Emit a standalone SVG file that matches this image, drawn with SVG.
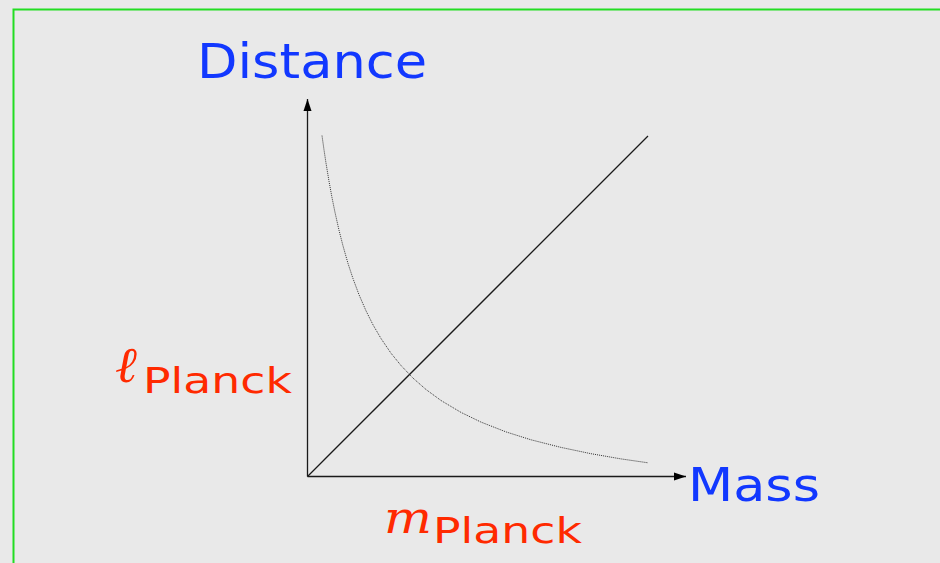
<svg xmlns="http://www.w3.org/2000/svg" width="940" height="563" viewBox="0 0 940 563">
<style>
.axis{stroke:#1a1a1a;stroke-width:1.3;fill:none}
.lbl{font-family:"DejaVu Sans",sans-serif}
.blue{fill:#1238ff}
.red{fill:#ff2a00}
.math{font-family:"DejaVu Serif","Liberation Serif",serif;font-style:italic}
</style>
<defs>
<marker id="arr" markerUnits="userSpaceOnUse" markerWidth="14" markerHeight="10" refX="12" refY="5" orient="auto">
<path d="M0,1 L12,5 L0,9 Z" fill="#000"/>
</marker>
</defs>
<rect x="0" y="0" width="940" height="563" fill="#e9e9e9"/>
<rect x="13.5" y="9.5" width="940" height="600" fill="none" stroke="#22dd22" stroke-width="2"/>
<g id="connectors">
<line class="axis" x1="307.5" y1="476.5" x2="307.5" y2="99" marker-end="url(#arr)"/>
<line class="axis" x1="307.5" y1="476.5" x2="686" y2="476.5" marker-end="url(#arr)"/>
<line class="axis" x1="307.5" y1="476.5" x2="648" y2="136"/>
<polyline fill="none" stroke="#333" stroke-width="1" stroke-dasharray="1,1" stroke-linejoin="round" points="322,135.6 324,149.8 326,163.1 329,181.2 332,197.6 335,212.4 339,230.2 343,245.9 348,263.4 353,278.6 359,294.7 366,310.8 373,324.8 381,338.5 391,353.2 401,365.5 413,378.1 426,389.5 441,400.5 461,412.4 481,422.1 506,431.9 531,439.8 561,447.4 591,453.7 621,458.9 648,462.8"/>
</g>
<g id="distance"><text class="lbl blue" x="197" y="78" font-size="48" textLength="230" lengthAdjust="spacingAndGlyphs">Distance</text></g>
<g id="mass"><text class="lbl blue" x="688" y="501" font-size="47" textLength="132" lengthAdjust="spacingAndGlyphs">Mass</text></g>
<g id="lplanck">
<text class="math red" x="115" y="382" font-size="50" textLength="22" lengthAdjust="spacingAndGlyphs">ℓ</text>
<text class="lbl red" x="143" y="393" font-size="36" textLength="149" lengthAdjust="spacingAndGlyphs">Planck</text>
</g>
<g id="mplanck">
<text class="math red" x="384" y="533" font-size="44" textLength="48" lengthAdjust="spacingAndGlyphs">m</text>
<text class="lbl red" x="433" y="543" font-size="36" textLength="149" lengthAdjust="spacingAndGlyphs">Planck</text>
</g>
</svg>
